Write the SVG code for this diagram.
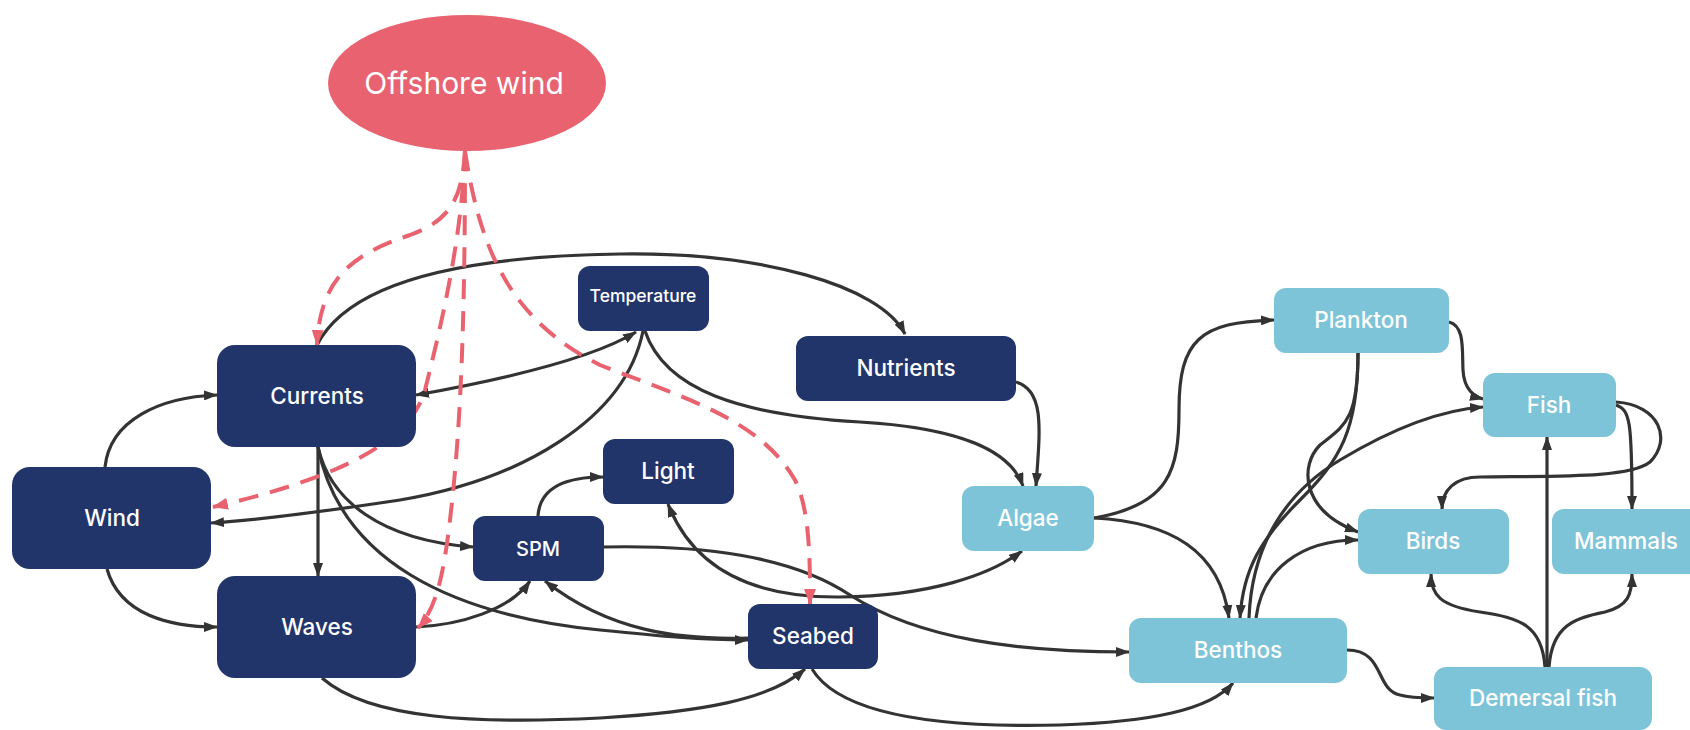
<svg xmlns="http://www.w3.org/2000/svg" width="1690" height="730" viewBox="0 0 1690 730">
<defs>
<marker id="ah" viewBox="0 0 14 10" refX="13" refY="5" markerWidth="14" markerHeight="10" markerUnits="userSpaceOnUse" orient="auto-start-reverse"><path d="M0,0 L14,5 L0,10 z" fill="#333"/></marker>
<marker id="ahr" viewBox="0 0 16 12" refX="15" refY="6" markerWidth="16" markerHeight="12" markerUnits="userSpaceOnUse" orient="auto"><path d="M0,0 L16,6 L0,12 z" fill="#e8636f"/></marker>
</defs>
<style>
.dk rect{fill:#22356b}
.lt rect{fill:#7ec4d8}
text{font-family:Inter,"Liberation Sans",Arial,sans-serif;font-weight:500;fill:#fff;text-anchor:middle;font-size:22.5px}
.e path{fill:none;stroke:#333;stroke-width:3.2;marker-end:url(#ah)}
.e path.both{marker-start:url(#ah)}
.r path{fill:none;stroke:#e8636f;stroke-width:4;stroke-dasharray:20 12;marker-end:url(#ahr)}
</style>
<rect width="1690" height="730" fill="#fff"/>
<g id="connectors">
<g class="e">
<path d="M317,345 C350,280 470,256 620,254 C760,252 880,285 905,334"/>
<path class="both" d="M416,395 C500,380 590,360 636,332"/>
<path d="M643,331 C625,420 520,480 400,500 C320,512 260,520 211,523"/>
<path d="M645,331 C665,390 740,415 860,422 C960,428 1010,450 1023,486"/>
<path d="M1016,382 C1045,390 1040,430 1036,486"/>
<path d="M105,467 C110,420 160,397 217,395"/>
<path d="M107,569 C120,615 170,627 217,627"/>
<path d="M318,447 L318,576"/>
<path d="M318,447 C330,500 380,540 473,547"/>
<path d="M318,447 C340,560 450,615 600,630 C660,636 700,640 748,640"/>
<path d="M416,627 C460,625 510,610 530,581"/>
<path d="M748,638 C680,640 610,632 545,581"/>
<path d="M538,516 C540,485 570,477 603,477"/>
<path d="M604,547 C700,545 790,555 850,595 C920,640 1020,652 1129,652"/>
<path class="both" d="M668,504 C690,560 740,598 840,597 C930,596 990,575 1022,551"/>
<path d="M322,678 C370,720 480,724 600,718 C700,712 770,700 805,669"/>
<path d="M812,669 C840,715 940,728 1060,725 C1150,722 1210,710 1233,683"/>
<path d="M1094,518 C1170,505 1179,470 1179,410 C1179,340 1200,322 1274,320"/>
<path d="M1094,518 C1170,522 1220,550 1229,618"/>
<path d="M1358,353 C1358,430 1340,460 1300,500 C1260,540 1243,570 1240,618"/>
<path d="M1358,353 C1358,420 1345,425 1320,445 C1300,465 1300,510 1358,532"/>
<path d="M1249,618 C1252,540 1290,490 1340,460 C1390,430 1440,410 1483,407"/>
<path d="M1256,618 C1262,570 1300,540 1358,540"/>
<path d="M1449,322 C1465,326 1462,350 1463,370 C1464,390 1475,397 1483,399"/>
<path d="M1616,405 C1630,410 1632,420 1632,509"/>
<path d="M1616,402 C1660,405 1672,440 1650,462 C1630,478 1560,476 1480,477 C1455,477 1442,490 1442,509"/>
<path d="M1547,667 L1547,437"/>
<path d="M1545,667 C1542,625 1520,618 1480,612 C1440,606 1431,595 1431,574"/>
<path d="M1549,667 C1552,625 1575,618 1605,612 C1628,606 1632,595 1632,574"/>
<path d="M1347,650 C1385,650 1375,690 1400,695 C1410,698 1420,698 1434,698"/>
</g>
<g class="r">
<path d="M465,151 C462,200 450,220 410,235 C350,255 320,280 317,345"/>
<path d="M465,151 C462,240 440,330 425,390 C410,445 330,480 213,507"/>
<path d="M465,151 C465,300 462,420 450,520 C443,580 435,610 418,628"/>
<path d="M465,151 C480,250 510,320 600,365 C690,400 760,420 795,480 C810,510 810,560 810,604"/>
</g>
</g>
<g id="offshore"><ellipse cx="467" cy="83" rx="139" ry="68" fill="#e8636f"/><text x="464" y="94" style="font-size:30px;font-weight:400">Offshore wind</text></g>
<g id="currents" class="dk"><rect x="217" y="345" width="199" height="102" rx="18"/><text x="317" y="404">Currents</text></g>
<g id="wind" class="dk"><rect x="12" y="467" width="199" height="102" rx="18"/><text x="112" y="526">Wind</text></g>
<g id="waves" class="dk"><rect x="217" y="576" width="199" height="102" rx="18"/><text x="317" y="635">Waves</text></g>
<g id="spm" class="dk"><rect x="473" y="516" width="131" height="65" rx="12"/><text x="538" y="556" style="font-size:20px">SPM</text></g>
<g id="temperature" class="dk"><rect x="578" y="266" width="131" height="65" rx="12"/><text x="643" y="302" style="font-size:17.5px">Temperature</text></g>
<g id="light" class="dk"><rect x="603" y="439" width="131" height="65" rx="12"/><text x="668" y="479">Light</text></g>
<g id="nutrients" class="dk"><rect x="796" y="336" width="220" height="65" rx="12"/><text x="906" y="376">Nutrients</text></g>
<g id="seabed" class="dk"><rect x="748" y="604" width="130" height="65" rx="12"/><text x="813" y="644">Seabed</text></g>
<g id="algae" class="lt"><rect x="962" y="486" width="132" height="65" rx="12"/><text x="1028" y="526">Algae</text></g>
<g id="plankton" class="lt"><rect x="1274" y="288" width="175" height="65" rx="12"/><text x="1361" y="328">Plankton</text></g>
<g id="fish" class="lt"><rect x="1483" y="373" width="133" height="64" rx="12"/><text x="1549" y="413">Fish</text></g>
<g id="birds" class="lt"><rect x="1358" y="509" width="151" height="65" rx="12"/><text x="1433" y="549">Birds</text></g>
<g id="mammals" class="lt"><rect x="1552" y="509" width="150" height="65" rx="12"/><text x="1626" y="549">Mammals</text></g>
<g id="benthos" class="lt"><rect x="1129" y="618" width="218" height="65" rx="12"/><text x="1238" y="658">Benthos</text></g>
<g id="demersal" class="lt"><rect x="1434" y="667" width="218" height="63" rx="12"/><text x="1543" y="706">Demersal fish</text></g>
</svg>
